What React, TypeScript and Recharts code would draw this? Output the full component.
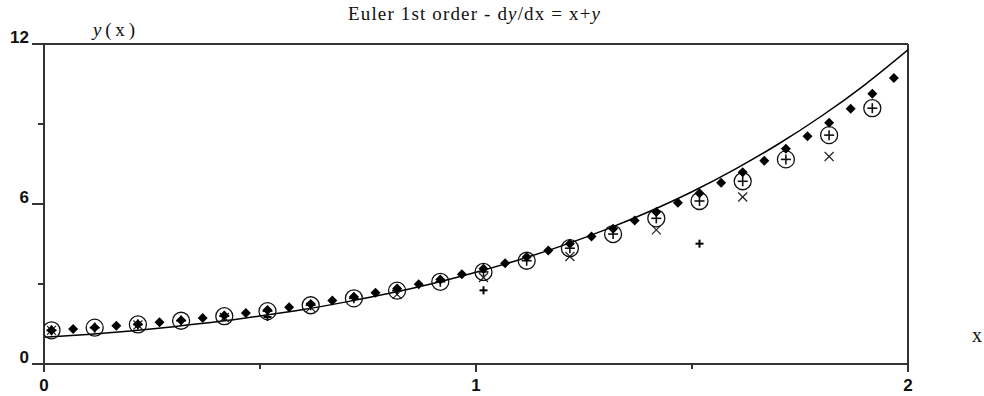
import React from "react";
import {
  ComposedChart,
  Line,
  Scatter,
  XAxis,
  YAxis,
  ReferenceLine,
} from "recharts";

// exact solution y = 2e^x - x - 1
const xExact = [0, 0.1, 0.2, 0.3, 0.4, 0.5, 0.6, 0.7, 0.8, 0.9, 1, 1.1, 1.2, 1.3, 1.4, 1.5, 1.6, 1.7, 1.8, 1.9, 2];
const yExact = [1, 1.11, 1.24, 1.4, 1.58, 1.8, 2.04, 2.33, 2.65, 3.02, 3.44, 3.91, 4.44, 5.04, 5.71, 6.46, 7.31, 8.25, 9.3, 10.47, 11.78];

// Euler, h = 0.05 (diamonds)
const xH005 = [0, 0.05, 0.1, 0.15, 0.2, 0.25, 0.3, 0.35, 0.4, 0.45, 0.5, 0.55, 0.6, 0.65, 0.7, 0.75, 0.8, 0.85, 0.9, 0.95, 1, 1.05, 1.1, 1.15, 1.2, 1.25, 1.3, 1.35, 1.4, 1.45, 1.5, 1.55, 1.6, 1.65, 1.7, 1.75, 1.8, 1.85, 1.9, 1.95];
const yH005 = [1.0, 1.05, 1.11, 1.17, 1.23, 1.3, 1.38, 1.46, 1.56, 1.65, 1.76, 1.87, 1.99, 2.12, 2.26, 2.41, 2.57, 2.73, 2.91, 3.1, 3.31, 3.52, 3.75, 3.99, 4.25, 4.52, 4.81, 5.12, 5.44, 5.78, 6.14, 6.53, 6.93, 7.36, 7.81, 8.28, 8.78, 9.31, 9.87, 10.46];

// Euler, h = 0.1 (circled plus)
const xH01 = [0, 0.1, 0.2, 0.3, 0.4, 0.5, 0.6, 0.7, 0.8, 0.9, 1, 1.1, 1.2, 1.3, 1.4, 1.5, 1.6, 1.7, 1.8, 1.9];
const yH01 = [1.0, 1.1, 1.22, 1.36, 1.53, 1.72, 1.94, 2.2, 2.49, 2.82, 3.19, 3.61, 4.08, 4.61, 5.2, 5.85, 6.59, 7.41, 8.32, 9.33];

// Euler, h = 0.2 (crosses)
const xH02 = [0, 0.2, 0.4, 0.6, 0.8, 1, 1.2, 1.4, 1.6, 1.8];
const yH02 = [1.0, 1.2, 1.48, 1.86, 2.35, 2.98, 3.77, 4.77, 6.0, 7.52];

// Euler, h = 0.5 (plus)
const xH05 = [0, 0.5, 1, 1.5];
const yH05 = [1.0, 1.5, 2.5, 4.25];

const xTicks = [0, 0.5, 1, 1.5, 2];
const yTicks = [0, 3, 6, 9, 12];

const zip = (xs: number[], ys: number[]) => xs.map((x, i) => ({ x, y: ys[i] }));

const exactData = zip(xExact, yExact);
const h005Data = zip(xH005, yH005);
const h01Data = zip(xH01, yH01);
const h02Data = zip(xH02, yH02);
const h05Data = zip(xH05, yH05);

const INK = "#111";
const AXIS = "#333";
const LABEL_FONT = "'Liberation Sans Narrow', 'Liberation Sans', Arial, sans-serif";
const SERIF = "'Liberation Serif', 'DejaVu Serif', serif";

// the markers sit a little right of and above their true points, as in the source plot
const DX = 7.5;
const DY = -7;

const Diamond = (props: any) => {
  const x = props.cx + DX;
  const y = props.cy + DY;
  return <polygon points={`${x},${y - 5} ${x + 5},${y} ${x},${y + 5} ${x - 5},${y}`} fill="#000" />;
};

const CirclePlus = (props: any) => {
  const x = props.cx + DX;
  const y = props.cy + DY;
  return (
    <g>
      <circle cx={x} cy={y} r={8.5} fill="none" stroke={INK} strokeWidth={1.3} />
      <line x1={x - 5} x2={x + 5} y1={y} y2={y} stroke={INK} strokeWidth={1.6} />
      <line x1={x} x2={x} y1={y - 5} y2={y + 5} stroke={INK} strokeWidth={1.6} />
    </g>
  );
};

const Cross = (props: any) => {
  const x = props.cx + DX;
  const y = props.cy + DY;
  return (
    <g stroke="#222" strokeWidth={1.2}>
      <line x1={x - 4.5} x2={x + 4.5} y1={y - 4.5} y2={y + 4.5} />
      <line x1={x - 4.5} x2={x + 4.5} y1={y + 4.5} y2={y - 4.5} />
    </g>
  );
};

const Plus = (props: any) => {
  const x = props.cx + DX;
  const y = props.cy + DY;
  return (
    <g stroke="#000" strokeWidth={2}>
      <line x1={x - 4} x2={x + 4} y1={y} y2={y} />
      <line x1={x} x2={x} y1={y - 4} y2={y + 4} />
    </g>
  );
};

const YTick = (props: any) => {
  const { x, y, payload } = props;
  const major = payload.value % 6 === 0;
  return (
    <g>
      <line x1={x - (major ? 12 : 6)} x2={x} y1={y} y2={y} stroke={AXIS} strokeWidth={2} />
      {major && (
        <text x={x - 15} y={y - 1} textAnchor="end" fontSize={17} fontWeight="bold" fontFamily={LABEL_FONT} fill={INK}>
          {payload.value}
        </text>
      )}
    </g>
  );
};

const XTick = (props: any) => {
  const { x, y, payload } = props;
  const major = Number.isInteger(payload.value);
  return (
    <g>
      <line x1={x} x2={x} y1={y} y2={y + (major ? 8 : 5)} stroke={AXIS} strokeWidth={2} />
      {major && (
        <text x={x} y={y + 27} textAnchor="middle" fontSize={17} fontWeight="bold" fontFamily={LABEL_FONT} fill={INK}>
          {payload.value}
        </text>
      )}
    </g>
  );
};

export default function App() {
  return (
    <div style={{ position: "absolute", left: 0, top: 0, width: 984, height: 396, background: "#fff" }}>
      <ComposedChart width={984} height={396} margin={{ top: 44, right: 76, bottom: 0, left: 0 }}>
        <XAxis
          type="number"
          dataKey="x"
          domain={[0, 2]}
          ticks={xTicks}
          height={32}
          tickSize={0}
          tickMargin={0}
          tickLine={false}
          tick={<XTick />}
          axisLine={{ stroke: AXIS, strokeWidth: 2 }}
          allowDataOverflow
        />
        <YAxis
          type="number"
          dataKey="y"
          domain={[0, 12]}
          ticks={yTicks}
          width={44}
          tickSize={0}
          tickMargin={0}
          tickLine={false}
          tick={<YTick />}
          axisLine={{ stroke: AXIS, strokeWidth: 2 }}
          allowDataOverflow
        />
        <ReferenceLine y={12} stroke={AXIS} strokeWidth={2} />
        <ReferenceLine x={2} stroke={AXIS} strokeWidth={2} />
        <Line
          data={exactData}
          dataKey="y"
          type="monotone"
          stroke="#000"
          strokeWidth={1.5}
          dot={false}
          activeDot={false}
          isAnimationActive={false}
        />
        <Scatter data={h05Data} dataKey="y" shape={<Plus />} isAnimationActive={false} />
        <Scatter data={h02Data} dataKey="y" shape={<Cross />} isAnimationActive={false} />
        <Scatter data={h01Data} dataKey="y" shape={<CirclePlus />} isAnimationActive={false} />
        <Scatter data={h005Data} dataKey="y" shape={<Diamond />} isAnimationActive={false} />
        <text x={474} y={20} textAnchor="middle" fontSize={19} fontFamily={SERIF} fill={INK} textLength={252} lengthAdjust="spacing">
          Euler 1st order - d<tspan fontStyle="italic">y</tspan>/dx = x+<tspan fontStyle="italic">y</tspan>
        </text>
        <text x={93} y={36} fontSize={19} fontFamily={SERIF} fill={INK} textLength={42} lengthAdjust="spacing">
          <tspan fontStyle="italic">y</tspan>(x)
        </text>
        <text x={977} y={342} textAnchor="middle" fontSize={20} fontFamily={SERIF} fill={INK}>
          x
        </text>
      </ComposedChart>
    </div>
  );
}
